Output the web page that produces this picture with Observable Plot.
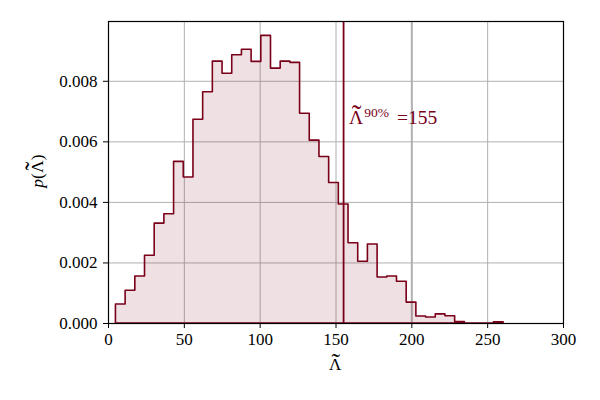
<!DOCTYPE html>
<html><head><meta charset="utf-8">
<script src="https://cdn.jsdelivr.net/npm/d3@7"></script>
<script src="https://cdn.jsdelivr.net/npm/@observablehq/plot@0.6"></script>
<style>
body{margin:0;background:#fff}
</style>
</head><body><div id="chart"></div>
<script>
// histogram: 40 equal bins between binLo and binHi
const binLo = 4.9, binHi = 260.5, nBins = 40;
const density = [
  0.00063, 0.00108, 0.00155, 0.00224, 0.00330, 0.00361, 0.00534, 0.00482, 0.00673, 0.00764,
  0.00865, 0.00825, 0.00886, 0.00904, 0.00864, 0.00950, 0.00842, 0.00865, 0.00861, 0.00693,
  0.00604, 0.00550, 0.00464, 0.00393, 0.00265, 0.00204, 0.00261, 0.00152, 0.00155, 0.00138,
  0.00069, 0.00023, 0.00020, 0.00030, 0.00024, 0.00005, 0, 0, 0, 0.00004
];
const lambda90 = 155;
const xTicks = [0, 50, 100, 150, 200, 250, 300];
const yTicks = [0, 0.002, 0.004, 0.006, 0.008];
const xDomain = [0, 300];
const yMax = 0.009975;
const maroon = "#7a0019";
const FONT = "'Liberation Serif', 'DejaVu Serif', serif";

const binW = (binHi - binLo) / nBins;
const pts = density.map((d, i) => ({x: binLo + i * binW, y: d}));
pts.push({x: binHi, y: density[density.length - 1]});

const gridX = xTicks.filter(t => t > 0 && t < 300);
const gridY = yTicks.filter(t => t > 0);

const plot = Plot.plot({
  width: 600, height: 400,
  marginTop: 21, marginRight: 37, marginBottom: 77, marginLeft: 108,
  style: `font-family: ${FONT}; font-size: 17px; color: #000; background: #fff;`,
  x: {domain: xDomain},
  y: {domain: [0, yMax]},
  marks: [
    Plot.ruleX(gridX, {stroke: "#b0b0b0", strokeWidth: d => d === 200 ? 2 : 1}),
    Plot.ruleY(gridY, {stroke: "#b0b0b0", strokeWidth: 1}),
    Plot.areaY(pts, {x: "x", y: "y", curve: "step-after", fill: maroon, fillOpacity: 0.12, stroke: maroon, strokeWidth: 1.6}),
    Plot.ruleX([lambda90], {stroke: maroon, strokeWidth: 1.8}),
    Plot.axisX({ticks: xTicks, tickSize: 5, tickPadding: 4, label: null, tickFormat: d3.format("d")}),
    Plot.axisY({ticks: yTicks, tickSize: 5, tickPadding: 6, label: null, tickFormat: d3.format(".3f")}),
    Plot.frame({stroke: "#000", strokeWidth: 1.2})
  ]
});
document.getElementById("chart").appendChild(plot);

const svg = d3.select(plot);
const sx = plot.scale("x"), sy = plot.scale("y");

// math-like text as ONE <text> with tspans; tilde accent placed over a part
function mathText(parts, {x, y, anchor = "start", rotate = 0, fill = "#000", size = 17}) {
  const t = svg.append("text")
    .attr("transform", `translate(${x},${y}) rotate(${rotate})`)
    .attr("fill", fill).attr("text-anchor", "start")
    .style("font-family", FONT).style("font-size", size + "px");
  let cur = 0, pendingDx = 0;
  for (const p of parts) {
    const fs = p.size || size;
    const target = -(p.raise || 0);
    const s = t.append("tspan")
      .style("font-size", fs + "px").style("font-style", p.italic ? "italic" : "normal")
      .attr("dx", (p.gap || 0) + pendingDx).attr("dy", target - cur).text(p.t);
    cur = target; pendingDx = 0;
    if (p.tilde) {
      const w = s.node().getComputedTextLength();
      const ts = t.append("tspan").style("font-size", (fs * 1.5) + "px").style("font-style", "normal").text("\u02DC");
      const wt = ts.node().getComputedTextLength();
      const lift = fs * 0.065;
      ts.attr("dx", -(w / 2 + wt / 2) + 0.5).attr("dy", lift);
      cur += lift;
      pendingDx = w / 2 - wt / 2 - 0.5;
    }
  }
  if (anchor === "middle") {
    const b = t.node().getBBox();
    t.attr("x", -(b.x + b.width / 2));
  }
  return t;
}

// x label
mathText([{t: "Λ", tilde: true}], {x: sx.apply(150), y: sy.apply(0) + 47, anchor: "middle", size: 17});
// y label
mathText([{t: "p", italic: true}, {t: "("}, {t: "Λ", tilde: true}, {t: ")"}],
  {x: 43, y: sy.apply(yMax / 2), anchor: "middle", rotate: -90, size: 17.5});
// annotation
mathText([
  {t: "Λ", tilde: true},
  {t: "90%", size: 13.5, raise: 7, gap: 1},
  {t: "=" + lambda90, gap: 8}
], {x: sx.apply(lambda90) + 6, y: sy.apply(0.0066) + 1, fill: maroon, size: 19.5});
</script>
</body></html>
